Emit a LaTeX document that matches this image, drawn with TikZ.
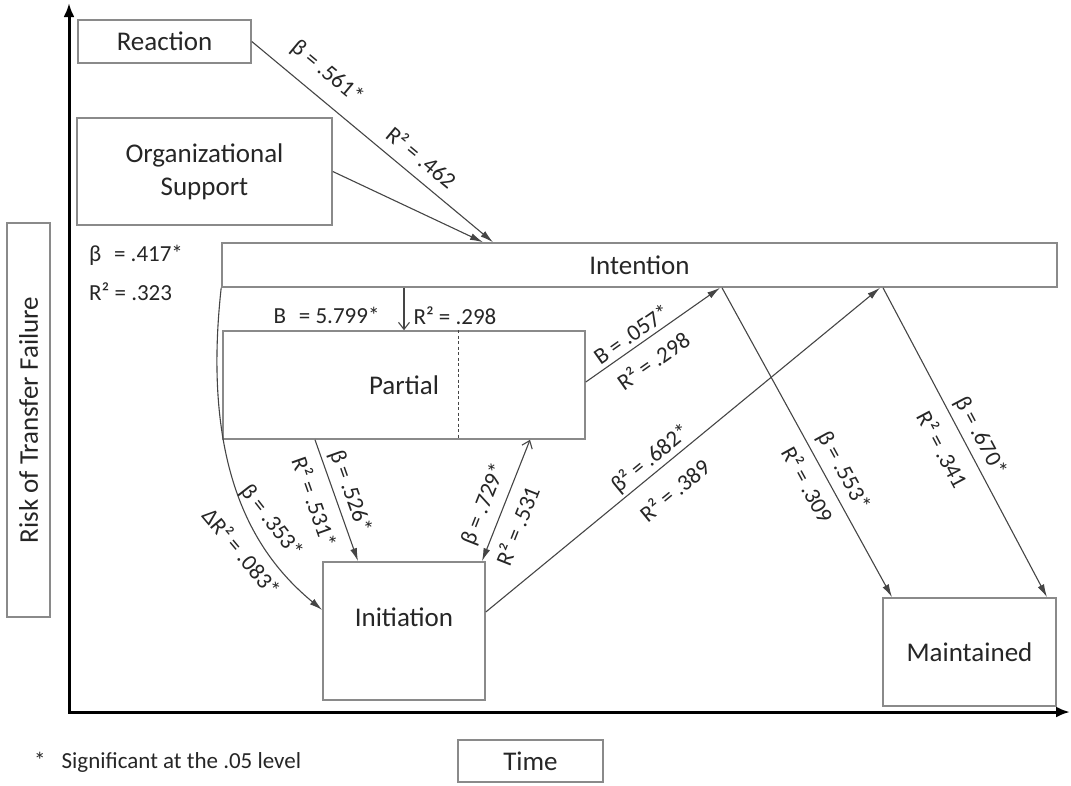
\documentclass[tikz,border=0pt]{standalone}
\usepackage{fontspec}
\setmainfont{Carlito}
\usetikzlibrary{arrows.meta,calc}

\definecolor{boxline}{HTML}{8A8A8A}
\definecolor{ink}{HTML}{262626}
\definecolor{wire}{HTML}{454545}

\begin{document}
\begin{tikzpicture}[x=1pt,y=-1pt,
  box/.style={draw=boxline, line width=1.6pt, inner sep=0pt, text=ink,
    font=\fontsize{27}{33}\selectfont, align=center},
  lab/.style={text=ink, font=\fontsize{23}{27}\selectfont, inner sep=0pt},
  slab/.style={lab, sloped, anchor=center},
  link/.style={draw=wire, line width=1.1pt, -{Latex[length=13pt,width=7pt]}},
  openlink/.style={draw=wire, line width=1.1pt, -{Straight Barb[length=7pt,width=11pt]}},
  axis/.style={line width=3pt, black,
    {Latex[length=14pt,width=11pt]}-{Latex[length=14pt,width=11pt]}}
]
\useasboundingbox (0,0) rectangle (1071,785);

% axes
\coordinate (ytop) at (69,3);
\coordinate (origin) at (69,712);
\coordinate (xend) at (1070,712);
\draw[axis] (ytop) -- (origin) -- (xend);

% axis captions
\node[box, rotate=90, minimum width=394pt, minimum height=43pt] (risk) at (28.5,420) {Risk of Transfer Failure};
\node[box, minimum width=145pt, minimum height=42pt] (time) at (530.5,761) {Time};
\node[lab, anchor=west] (note) at (34,762) {*\hspace{16pt}Significant at the .05 level};

% stages
\node[box, minimum width=173pt, minimum height=43pt] (reaction) at (164.5,41.5) {Reaction};
\node[box, minimum width=255pt, minimum height=107pt] (orgsupport) at (204.5,171.5) {Organizational\\Support};
\node[box, minimum width=835pt, minimum height=44pt] (intention) at (639.5,265) {Intention};
\node[box, minimum width=362pt, minimum height=108pt] (partial) at (404,385) {Partial};
\node[box, minimum width=162pt, minimum height=138pt] (initiation) at (404,631) {\raisebox{28pt}{Initiation}};
\node[box, minimum width=173pt, minimum height=108pt] (maintained) at (969.5,652) {Maintained};

\draw[draw=wire, line width=1pt, dash pattern=on 3pt off 2.5pt]
  (partial.north -| 458,0) -- (partial.south -| 458,0);

% stand-alone coefficients
\node[lab, anchor=west] (b417) at (89,255) {β\hspace{.55em}= .417*};
\node[lab, anchor=west] (r323) at (89,292) {R² = .323};

% paths into Intention
\draw[link] (reaction.east) -- (intention.north -| 493,0)
  node[slab, pos=.248, yshift=24pt] {β = .561*}
  node[slab, pos=.652, yshift=20pt] {R² = .462};
\draw[link] (orgsupport.east) -- (intention.north -| 483,0);

% Intention to Partial
\draw[openlink] (intention.south -| 404,0) -- (partial.north -| 404,0)
  node[lab, pos=.66, anchor=east, xshift=-24pt] {B\hspace{.55em}= 5.799*}
  node[lab, pos=.66, anchor=west, xshift=9pt] {R² = .298};

% Partial back to Intention
\draw[link] (partial.east |- 0,382) -- (intention.south -| 720,0)
  node[slab, pos=.395, yshift=13pt] {B = .057*}
  node[slab, pos=.41, yshift=-21pt] {R² = .298};

% Partial to Initiation
\draw[link] (partial.south -| 315,0) -- (initiation.north -| 358,0)
  node[slab, pos=.47, yshift=15.5pt] {β = .526*}
  node[slab, pos=.457, yshift=-20.8pt] {R² = .531*};

% Initiation and Partial
\draw[draw=wire, line width=1.1pt,
  {Latex[length=13pt,width=7pt]}-{Straight Barb[length=7pt,width=11pt]}]
  (initiation.north -| 482,0) -- (partial.south -| 530,0)
  node[slab, pos=.41, yshift=19pt] {β = .729*}
  node[slab, pos=.353, yshift=-19.4pt] {R² = .531};

% Intention directly to Initiation
\draw[link] (intention.south west) .. controls (200,480) and (262,560) .. (initiation.west |- 0,610);
\node[lab, rotate=-52] (b353) at (271,522) {β = .353*};
\node[lab, rotate=-50] (dr083) at (242,552) {ΔR² = .083*};

% Initiation back to Intention
\draw[link] (initiation.east |- 0,612) -- (intention.south -| 880,0)
  node[slab, pos=.44, yshift=13.7pt] {β² = .682*}
  node[slab, pos=.437, yshift=-25.5pt] {R² = .389};

% Intention to Maintained
\draw[link] (intention.south -| 722,0) -- (maintained.north -| 892,0)
  node[slab, pos=.621, yshift=17.6pt] {β = .553*}
  node[slab, pos=.606, yshift=-19.4pt] {R² = .309};
\draw[link] (intention.south -| 883,0) -- (maintained.north -| 1047,0)
  node[slab, pos=.505, yshift=16pt] {β = .670*}
  node[slab, pos=.488, yshift=-22.8pt] {R² = .341};

\end{tikzpicture}
\end{document}
